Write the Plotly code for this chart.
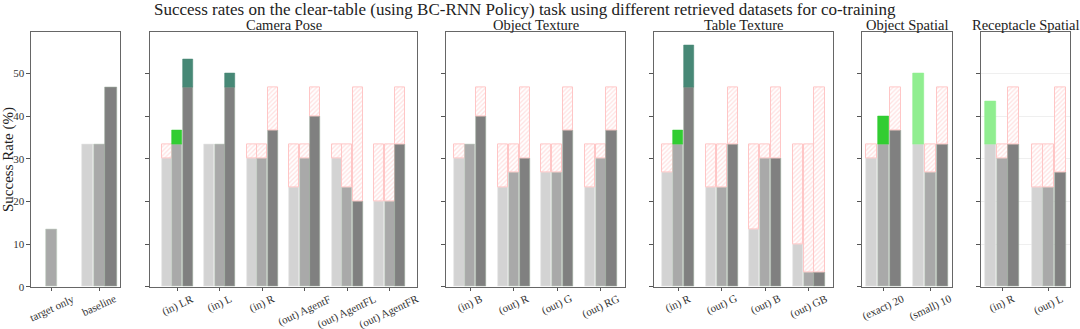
import plotly.graph_objects as go

# ---------------- data ----------------
BASELINE = [33.33, 33.33, 46.67]

panel_titles = ["", "Camera Pose", "Object Texture", "Table Texture", "Object Spatial", "Receptacle Spatial"]

base_cats = ["target only", "baseline"]
base_light = [None, 33.33]
base_dark = [13.33, 33.33]
base_gray = [None, 46.67]

cam_cats = ["(in) LR", "(in) L", "(in) R", "(out) AgentF", "(out) AgentFL", "(out) AgentFR"]
cam_light = [30, 33.33, 30, 23.33, 30, 20]
cam_dark = [36.67, 33.33, 30, 30, 23.33, 20]
cam_gray = [53.33, 50, 36.67, 40, 20, 33.33]

obj_cats = ["(in) B", "(out) R", "(out) G", "(out) RG"]
obj_light = [30, 23.33, 26.67, 23.33]
obj_dark = [33.33, 26.67, 26.67, 30]
obj_gray = [40, 30, 36.67, 36.67]

tab_cats = ["(in) R", "(out) G", "(out) B", "(out) GB"]
tab_light = [26.67, 23.33, 13.33, 10]
tab_dark = [36.67, 23.33, 30, 3.33]
tab_gray = [56.67, 33.33, 30, 3.33]

osp_cats = ["(exact) 20", "(small) 10"]
osp_light = [30, 50]
osp_dark = [40, 26.67]
osp_gray = [36.67, 33.33]

rsp_cats = ["(in) R", "(out) L"]
rsp_light = [43.33, 23.33]
rsp_dark = [30, 23.33]
rsp_gray = [33.33, 26.67]

y_ticks = [0, 10, 20, 30, 40, 50]

# ---------------- style ----------------
W, H = 1080, 329
FONT = "Liberation Serif"
bar_colors = ["#d3d3d3", "#a9a9a9", "#808080"]
edge_colors = ["#e4e4e4", "#bfcfbf", "#9aa89a"]
green_colors = ["#90ee90", "#32cd32", "#478876"]
HATCH = "#ffc6c6"

panels = [
    (base_cats, [base_light, base_dark, base_gray], False),
    (cam_cats, [cam_light, cam_dark, cam_gray], True),
    (obj_cats, [obj_light, obj_dark, obj_gray], True),
    (tab_cats, [tab_light, tab_dark, tab_gray], True),
    (osp_cats, [osp_light, osp_dark, osp_gray], True),
    (rsp_cats, [rsp_light, rsp_dark, rsp_gray], True),
]
px_domains = [(31, 120), (150, 417), (446, 625), (654, 833), (862, 952), (981, 1070)]
x_ranges = [(-0.44, 1.44), (-0.645, 5.645), (-0.56, 3.56), (-0.56, 3.56), (-0.45, 1.45), (-0.45, 1.45)]
Y_TOP, Y_BOT = 33, 292
y_dom = [1 - Y_BOT / H, 1 - Y_TOP / H]
YMAX = 59.6
BW = 0.235
OFF = 0.25

fig = go.Figure()
annotations = []

for pi, (cats, series, deltas) in enumerate(panels):
    idx = "" if pi == 0 else str(pi + 1)
    xa, ya = "x" + idx, "y" + idx
    for k in range(3):
        vals = series[k]
        b = BASELINE[k]
        xs, hs = [], []
        gx, gh, gb = [], [], []
        rx, rh, rb = [], [], []
        for g, v in enumerate(vals):
            if v is None:
                continue
            x = g + (k - 1) * OFF
            if deltas:
                xs.append(x)
                hs.append(min(v, b))
                if v > b + 1e-6:
                    gx.append(x); gh.append(v - b); gb.append(b)
                elif v < b - 1e-6:
                    rx.append(x); rh.append(b - v); rb.append(v)
            else:
                xs.append(x)
                hs.append(v)
        fig.add_trace(go.Bar(x=xs, y=hs, base=[0] * len(xs), width=BW, xaxis=xa, yaxis=ya,
                             marker=dict(color=bar_colors[k], line=dict(color=edge_colors[k], width=0.6)),
                             showlegend=False, hoverinfo="skip"))
        if gx:
            fig.add_trace(go.Bar(x=gx, y=gh, base=gb, width=BW, xaxis=xa, yaxis=ya,
                                 marker=dict(color=green_colors[k], line=dict(color=green_colors[k], width=0.6)),
                                 showlegend=False, hoverinfo="skip"))
        if rx:
            fig.add_trace(go.Bar(x=rx, y=rh, base=rb, width=BW, xaxis=xa, yaxis=ya,
                                 marker=dict(color="white", line=dict(color=HATCH, width=1),
                                             pattern=dict(shape="/", fgcolor="#ffc4c4", bgcolor="white",
                                                          size=3.2, solidity=0.4)),
                                 showlegend=False, hoverinfo="skip"))

    d0, d1 = px_domains[pi]
    xkey = "xaxis" + idx
    ykey = "yaxis" + idx
    fig.layout[xkey] = dict(domain=[d0 / W, d1 / W], range=list(x_ranges[pi]), anchor=ya,
                            tickvals=list(range(len(cats))), showticklabels=False,
                            ticks="outside", ticklen=3.5, tickcolor="#555555", tickwidth=1,
                            showline=True, mirror=True, linecolor="#666666", linewidth=1.2,
                            showgrid=False, zeroline=False, fixedrange=True)
    fig.layout[ykey] = dict(domain=y_dom, range=[0, YMAX], anchor=xa,
                            tickvals=y_ticks, showticklabels=(pi == 0),
                            tickfont=dict(family=FONT, size=11, color="#333333"),
                            ticks="outside", ticklen=3.5, tickcolor="#555555", tickwidth=1,
                            showline=True, mirror=True, linecolor="#666666", linewidth=1.2,
                            showgrid=(pi == 5), gridcolor="#efefef", gridwidth=1,
                            zeroline=False, fixedrange=True)
    # x tick labels (rotated, centered on tick)
    for g, c in enumerate(cats):
        annotations.append(dict(x=g, xref=xa, y=1 - 295 / H, yref="paper", text=c,
                                showarrow=False, textangle=-25, xanchor="center", yanchor="top",
                                font=dict(family=FONT, size=11, color="#333333")))
    if panel_titles[pi]:
        annotations.append(dict(x=(d0 + d1) / 2 / W, xref="paper", y=1 - 25 / H, yref="paper",
                                text=panel_titles[pi], showarrow=False, xanchor="center", yanchor="middle",
                                font=dict(family=FONT, size=14.5, color="#222222")))

annotations.append(dict(x=525 / W, xref="paper", y=1 - 10 / H, yref="paper",
                        text="Success rates on the clear-table (using BC-RNN Policy) task using different retrieved datasets for co-training",
                        showarrow=False, xanchor="center", yanchor="middle",
                        font=dict(family=FONT, size=17, color="#222222")))
annotations.append(dict(x=8 / W, xref="paper", y=1 - 163 / H, yref="paper",
                        text="Success Rate (%)", showarrow=False, textangle=-90,
                        xanchor="center", yanchor="middle",
                        font=dict(family=FONT, size=15, color="#222222")))

fig.update_layout(width=W, height=H, margin=dict(l=0, r=0, t=0, b=0),
                  paper_bgcolor="white", plot_bgcolor="white", barmode="overlay",
                  bargap=0, annotations=annotations, showlegend=False)

fig.write_html("out.html", config={"displayModeBar": False},
               post_script="document.body.style.margin='0';document.body.style.overflow='hidden';")
